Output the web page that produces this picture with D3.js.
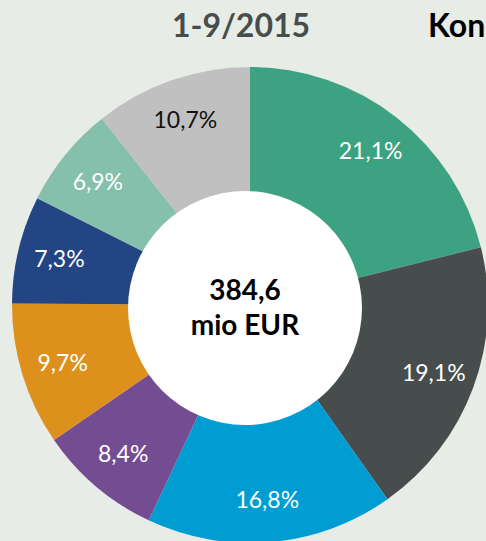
<!DOCTYPE html>
<html>
<head>
<meta charset="utf-8">
<script src="https://cdn.jsdelivr.net/npm/d3@7"></script>
<style>
  html, body { margin: 0; padding: 0; background: #e8ece6; overflow: hidden; }
  svg { display: block; font-family: Lato, "Open Sans", sans-serif; }
</style>
</head>
<body>
<script>
// shares of the total, clockwise from 12 o'clock
const shares = [21.1, 19.1, 16.8, 8.4, 9.7, 7.3, 6.9, 10.7];
const colors = ["#3ca282", "#474d4d", "#009dd3", "#744c91", "#dd911c", "#234583", "#85c0ad", "#c0c0c0"];
const labelColors = ["#fff", "#fff", "#fff", "#fff", "#fff", "#fff", "#fff", "#111"];
const title = "1-9/2015";
const sideTitle = "Kon";
const totalLines = ["384,6", "mio EUR"];

let width = 486, height = 541;
let cx = 250, cy = 305;
let outerR = 238, holeR = 117, labelR = 196;

let svg = d3.select("body").append("svg")
  .attr("width", width)
  .attr("height", height);

svg.append("rect")
  .attr("width", width)
  .attr("height", height)
  .attr("fill", "#e8ece6");

let pie = d3.pie().sort(null).value(d => d);
let arc = d3.arc().innerRadius(0).outerRadius(outerR);
let labelArc = d3.arc().innerRadius(labelR).outerRadius(labelR);

let g = svg.append("g")
  .attr("transform", "translate(" + cx + "," + cy + ")");

let slices = pie(shares);

g.selectAll("path")
  .data(slices)
  .enter()
  .append("path")
  .attr("d", arc)
  .attr("fill", (d, i) => colors[i]);

// the white hole sits a little left/below the ring centre in the original
svg.append("circle")
  .attr("cx", cx - 5)
  .attr("cy", cy + 3)
  .attr("r", holeR)
  .attr("fill", "#fff");

g.selectAll("text.lbl")
  .data(slices)
  .enter()
  .append("text")
  .attr("class", "lbl")
  .attr("x", d => labelArc.centroid(d)[0])
  .attr("y", d => labelArc.centroid(d)[1])
  .attr("dy", "0.35em")
  .attr("text-anchor", "middle")
  .style("font-size", "23px")
  .style("fill", (d, i) => labelColors[i])
  .text(d => d3.format(".1f")(d.data).replace(".", ",") + "%");

svg.selectAll("text.total")
  .data(totalLines)
  .enter()
  .append("text")
  .attr("class", "total")
  .attr("x", cx - 5)
  .attr("y", (d, i) => 300 + i * 35)
  .attr("text-anchor", "middle")
  .style("font-size", "28px")
  .style("font-weight", "bold")
  .style("fill", "#000")
  .text(d => d);

svg.append("text")
  .attr("x", 241)
  .attr("y", 37)
  .attr("text-anchor", "middle")
  .style("font-size", "32px")
  .style("font-weight", "bold")
  .style("fill", "#474d4d")
  .text(title);

svg.append("text")
  .attr("x", 428)
  .attr("y", 37)
  .style("font-size", "32px")
  .style("font-weight", "bold")
  .style("fill", "#000")
  .text(sideTitle);
</script>
</body>
</html>
